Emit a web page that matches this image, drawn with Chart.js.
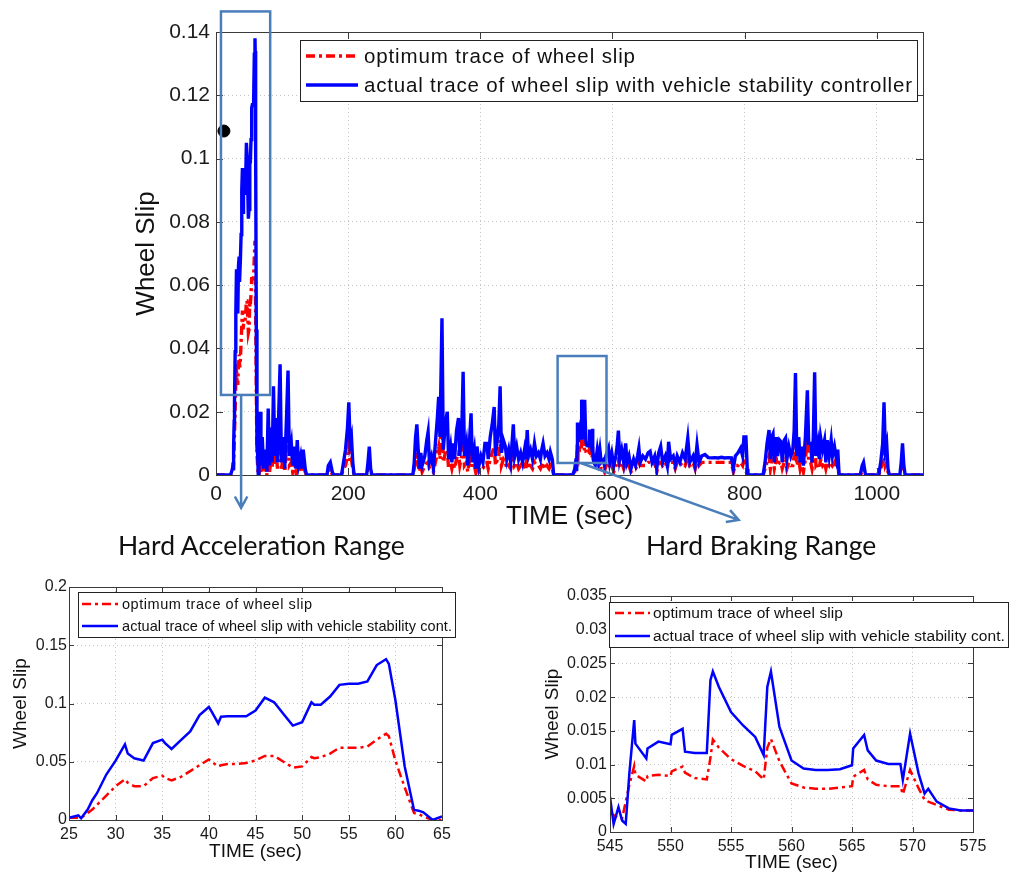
<!DOCTYPE html>
<html>
<head>
<meta charset="utf-8">
<title>Wheel slip</title>
<script src="https://cdn.jsdelivr.net/npm/chart.js@4.4.1/dist/chart.umd.min.js"></script>
<style>
  body { margin: 0; background: #fff; width: 1009px; height: 877px; position: relative; overflow: hidden; }
  .panel { position: absolute; }
  .note { position: absolute; font-family: Lato, "Open Sans", sans-serif; font-size: 26.5px; color: #111; white-space: nowrap; line-height: 30px; }
</style>
</head>
<body>
<div class="panel" style="left:0;top:0;width:1009px;height:575px"><canvas id="mainChart"></canvas></div>
<div class="panel" style="left:0;top:575px;width:470px;height:302px"><canvas id="accelChart"></canvas></div>
<div class="panel" style="left:520px;top:575px;width:489px;height:302px"><canvas id="brakeChart"></canvas></div>
<div class="note" style="left:118px;top:530px">Hard Acceleration Range</div>
<div class="note" style="left:646px;top:530px">Hard Braking Range</div>

<script>
const FONT = '"Liberation Sans", Arial, sans-serif';
const LABEL_OPT = 'optimum trace of wheel slip';
const LABEL_ACT_LONG = 'actual trace of wheel slip with vehicle stability controller';
const LABEL_ACT_SHORT = 'actual trace of wheel slip with vehicle stability cont.';

// --- full drive cycle (outside the two zoomed windows) ---
const mainTime = [
  0, 20, 22,
  66, 67, 68, 70, 72, 75, 77, 79, 81, 84, 85, 87, 89, 91, 93, 95, 97, 99, 102, 104, 107, 109, 111, 114, 116, 119, 121, 123, 125, 128, 130, 132, 135, 137,
  168, 170, 173, 176, 178, 190, 193, 196, 199, 201, 203, 205, 207, 209, 228, 230, 232, 234, 236,
  298, 300, 302, 304, 306, 308, 310, 312, 316, 319, 321, 323, 326, 329, 332, 335, 337, 339, 342, 344,
  347, 350, 352, 355, 357, 359, 361, 364, 367, 369, 372, 374, 376, 379, 381, 384, 386, 388, 391, 393,
  395, 398, 401, 404, 407, 410, 412, 415, 418, 421, 423, 426, 428, 430, 432, 435, 438, 440, 443, 446,
  448, 450, 452, 455, 458, 461, 464, 467, 469, 471, 473, 476, 479, 482, 485, 488, 491, 493, 495, 498,
  501, 504, 506, 509, 511, 540, 543,
  577, 579, 581, 583, 586, 588, 590, 594, 596, 599, 602, 605, 607, 609, 611, 614, 617, 620, 622, 625,
  628, 632, 635, 638, 640, 642, 646, 650, 654, 657, 660, 664, 667, 670, 673, 676, 680, 683, 685, 688,
  692, 695, 698, 702, 706, 710, 714, 717, 722, 725, 728, 731, 735, 740, 745, 750, 755, 760, 765, 770,
  775, 780, 783, 786, 790, 794, 797, 799, 802, 804, 805,
  828, 831, 834, 837, 839, 841, 843, 845, 848, 850, 853, 855, 857, 860, 862, 864, 867, 870, 873, 875,
  877, 879, 882, 884, 886, 889, 892, 895, 897, 900, 902, 904, 906, 908, 911, 913, 915, 918, 921, 923,
  925, 928, 931, 933, 936, 939, 941, 943,
  975, 978, 980, 983, 1003, 1006, 1009, 1011, 1013, 1015, 1017, 1019, 1035, 1037, 1039, 1041, 1043, 1070
];
const mainActual = [
  0, 0, 0,
  0.004, 0.02, 0.003, 0.012, 0.002, 0.008, 0.001, 0.021, 0.003, 0.015, 0.004, 0.028, 0.006, 0.018, 0.004, 0.02, 0.035, 0.004, 0.012, 0.002, 0.02, 0.033, 0.006, 0.01, 0.003, 0.009, 0.002, 0.011, 0.003, 0.006, 0.002, 0.008, 0.002, 0,
  0, 0.003, 0.004, 0.001, 0, 0, 0.004, 0.008, 0.015, 0.023, 0.01, 0.012, 0.004, 0, 0, 0.004, 0.009, 0.002, 0,
  0, 0.004, 0.012, 0.016, 0.008, 0.002, 0.007, 0.003, 0.006, 0.011, 0.0136, 0.004, 0.006, 0.002, 0.01, 0.018, 0.0247, 0.012, 0.0495, 0.008,
  0.016, 0.02, 0.005, 0.009, 0.004, 0.01, 0.005, 0.014, 0.018, 0.006, 0.014, 0.0326, 0.006, 0.01, 0.003, 0.012, 0.0195, 0.004, 0.008, 0.002,
  0.009, 0.003, 0.006, 0.004, 0.01, 0.01, 0.005, 0.012, 0.016, 0.0215, 0.006, 0.012, 0.016, 0.028, 0.007, 0.011, 0.009, 0.005, 0.008, 0.004,
  0.01, 0.016, 0.006, 0.009, 0.005, 0.007, 0.004, 0.008, 0.005, 0.0142, 0.006, 0.008, 0.005, 0.01, 0.006, 0.007, 0.005, 0.008, 0.01, 0.006,
  0.007, 0.005, 0.0073, 0.005, 0, 0, 0.002,
  0.008, 0.005, 0.008, 0.004, 0.0047, 0.003, 0.006, 0.0085, 0.004, 0.007, 0.003, 0.006, 0.009, 0.014, 0.005, 0.008, 0.004, 0.01, 0.004, 0.006,
  0.002, 0.005, 0.003, 0.006, 0.0085, 0.004, 0.006, 0.005, 0.007, 0.0075, 0.004, 0.006, 0.002, 0.007, 0.009, 0.004, 0.006, 0.003, 0.0105, 0.005,
  0.006, 0.003, 0.006, 0.004, 0.007, 0.005, 0.0117, 0.004, 0.006, 0.003, 0.0095, 0.004, 0.006, 0.0065, 0.0055, 0.0054, 0.0055, 0.0054, 0.0056, 0.0054,
  0.0055, 0.0054, 0.002, 0.006, 0.007, 0.0085, 0.006, 0.012, 0.012, 0.002, 0,
  0, 0.004, 0.01, 0.0142, 0.005, 0.012, 0.013, 0.004, 0.012, 0.006, 0.011, 0.0105, 0.004, 0.011, 0.0117, 0.005, 0.009, 0.006, 0.008, 0.014,
  0.0322, 0.006, 0.012, 0.004, 0.009, 0.003, 0.012, 0.0268, 0.01, 0.01, 0.004, 0.012, 0.0325, 0.006, 0.01, 0.005, 0.012, 0.008, 0.011, 0.004,
  0.011, 0.006, 0.011, 0.006, 0.009, 0.005, 0.008, 0,
  0, 0.003, 0.004, 0, 0, 0.004, 0.01, 0.023, 0.008, 0.01, 0.002, 0, 0, 0.004, 0.01, 0.003, 0, 0
];
const mainOptimum = [
  0, 0, 0,
  0.002, 0.008, 0.001, 0.005, 0.001, 0.004, 0, 0.008, 0.001, 0.006, 0.002, 0.012, 0.003, 0.008, 0.002, 0.009, 0.014, 0.002, 0.006, 0.001, 0.009, 0.013, 0.003, 0.004, 0.001, 0.004, 0.001, 0.005, 0.001, 0.003, 0.001, 0.003, 0.001, 0,
  0, 0.001, 0.002, 0, 0, 0, 0.002, 0.003, 0.006, 0.009, 0.004, 0.005, 0.002, 0, 0, 0.002, 0.004, 0.001, 0,
  0, 0.002, 0.005, 0.006, 0.003, 0.001, 0.003, 0.001, 0.003, 0.004, 0.005, 0.002, 0.002, 0.001, 0.004, 0.007, 0.009, 0.005, 0.018, 0.004,
  0.007, 0.008, 0.002, 0.004, 0.002, 0.004, 0.002, 0.005, 0.007, 0.003, 0.006, 0.012, 0.003, 0.004, 0.001, 0.005, 0.008, 0.002, 0.003, 0.001,
  0.004, 0.001, 0.002, 0.002, 0.004, 0.004, 0.002, 0.005, 0.007, 0.009, 0.003, 0.005, 0.006, 0.011, 0.003, 0.005, 0.004, 0.002, 0.003, 0.002,
  0.004, 0.007, 0.003, 0.004, 0.002, 0.003, 0.002, 0.003, 0.002, 0.006, 0.003, 0.003, 0.002, 0.004, 0.003, 0.003, 0.002, 0.003, 0.004, 0.002,
  0.003, 0.002, 0.003, 0.002, 0, 0, 0.001,
  0.005, 0.003, 0.004, 0.002, 0.002, 0.001, 0.003, 0.004, 0.002, 0.003, 0.001, 0.003, 0.004, 0.005, 0.002, 0.004, 0.002, 0.004, 0.002, 0.003,
  0.001, 0.002, 0.002, 0.003, 0.004, 0.003, 0.003, 0.003, 0.004, 0.004, 0.003, 0.004, 0.001, 0.004, 0.004, 0.003, 0.004, 0.002, 0.005, 0.004,
  0.004, 0.002, 0.004, 0.003, 0.004, 0.003, 0.005, 0.003, 0.004, 0.002, 0.005, 0.003, 0.004, 0.004, 0.004, 0.004, 0.004, 0.004, 0.004, 0.004,
  0.004, 0.004, 0.001, 0.003, 0.003, 0.004, 0.003, 0.005, 0.005, 0.001, 0,
  0, 0.002, 0.004, 0.006, 0.002, 0.005, 0.005, 0.002, 0.005, 0.003, 0.004, 0.004, 0.002, 0.004, 0.005, 0.002, 0.004, 0.003, 0.003, 0.006,
  0.012, 0.003, 0.005, 0.002, 0.004, 0.001, 0.005, 0.011, 0.004, 0.004, 0.002, 0.005, 0.012, 0.003, 0.004, 0.002, 0.005, 0.003, 0.004, 0.002,
  0.004, 0.003, 0.004, 0.003, 0.004, 0.002, 0.003, 0,
  0, 0.001, 0.002, 0, 0, 0.002, 0.004, 0.009, 0.003, 0.004, 0.001, 0, 0, 0.002, 0.004, 0.001, 0, 0
];
const markerPoint = [12, 0.1087];

// --- hard acceleration window, 25-65 s ---
const accelTime = [
  25, 26, 26.3, 27, 27.5, 28, 29, 30, 31, 31.3, 32, 33, 34, 35, 35.3, 36, 37, 38, 39, 40,
  40.3, 41, 41.3, 42, 43, 44, 45, 46, 47, 48, 49, 50, 51, 51.3, 52, 53, 54, 55, 56, 57,
  58, 59, 59.3, 60, 61, 62, 62.5, 63, 64, 65
];
const accelActual = [
  0.002, 0.004, 0.0015, 0.009, 0.017, 0.023, 0.039, 0.051, 0.065, 0.057, 0.053, 0.051, 0.066, 0.069, 0.066, 0.061, 0.0686, 0.076, 0.09, 0.097,
  0.093, 0.083, 0.0886, 0.089, 0.089, 0.089, 0.094, 0.105, 0.101, 0.091, 0.081, 0.084, 0.101, 0.099, 0.099, 0.106, 0.116, 0.117, 0.117, 0.119,
  0.133, 0.138, 0.134, 0.103, 0.046, 0.0086, 0.008, 0.0066, 0, 0.003
];
const accelOptimum = [
  0.002, 0.002, 0.002, 0.006, 0.009, 0.013, 0.021, 0.029, 0.035, 0.032, 0.029, 0.029, 0.036, 0.038, 0.036, 0.034, 0.037, 0.042, 0.047, 0.052,
  0.05, 0.046, 0.047, 0.048, 0.048, 0.049, 0.051, 0.055, 0.055, 0.05, 0.045, 0.046, 0.054, 0.053, 0.054, 0.057, 0.062, 0.062, 0.062, 0.063,
  0.069, 0.074, 0.072, 0.051, 0.028, 0.006, 0.005, 0.003, 0, 0
];

// --- hard braking window, 545-575 s ---
const brakeTime = [
  545, 545.3, 545.7, 546, 546.3, 546.6, 547, 547.1, 548, 548.1, 549, 550, 550.1, 551, 551.2, 552,
  553, 553.3, 553.5, 554, 555, 556, 557, 557.7, 558, 558.3, 559, 560, 561, 562, 563, 564,
  565, 565.1, 566, 566.3, 567, 568, 569, 569.2, 569.8, 570.5, 571, 571.3, 572, 573, 574, 575
];
const brakeActual = [
  0.0052, 0.0012, 0.0037, 0.0017, 0.0012, 0.0087, 0.0166, 0.0131, 0.0109, 0.0124, 0.0134, 0.013, 0.0144, 0.0153, 0.0119, 0.0117,
  0.0117, 0.0225, 0.0238, 0.0215, 0.0178, 0.0158, 0.0141, 0.0114, 0.0215, 0.0238, 0.0156, 0.0106, 0.0094, 0.0092, 0.0092, 0.0093,
  0.0099, 0.0124, 0.0144, 0.0121, 0.0106, 0.0101, 0.0101, 0.0077, 0.0146, 0.0087, 0.0057, 0.0064, 0.0045, 0.0035, 0.0032, 0.0032
];
const brakeOptimum = [
  0.003, 0.0025, 0.002, 0.002, 0.0045, 0.007, 0.0098, 0.0085, 0.0075, 0.0083, 0.0085, 0.0083, 0.009, 0.0097, 0.0088, 0.008,
  0.0078, 0.011, 0.0137, 0.0125, 0.0108, 0.0098, 0.009, 0.0078, 0.0125, 0.0138, 0.0105, 0.0072, 0.0066, 0.0064, 0.0064, 0.0066,
  0.0068, 0.0082, 0.0092, 0.0078, 0.007, 0.0068, 0.0068, 0.0056, 0.0092, 0.0065, 0.0048, 0.0045, 0.004, 0.0033, 0.0032, 0.0032
];

// zoom boxes / arrows on the main plot, in data units
const accelBox = { from: 7.5, to: 82, low: 0.0253, high: 0.1465 };
const brakeBox = { from: 517, to: 591, low: 0.0038, high: 0.0376 };
const accelArrow = { x0: 38, y0: 0.0253, x1: 38, y1: -0.0104 };
const brakeArrow = { x0: 552, y0: 0.0038, x1: 791, y1: -0.0142 };

function toPoints(xs, ys) {
  return xs.map((x, i) => ({ x: x, y: ys[i] }));
}

function fmt(v) {
  return String(+v.toFixed(4));
}

// matlab-ish axes box, inward ticks, axis titles and a boxed legend
const matlabFrame = {
  id: 'matlabFrame',
  afterDraw(chart, args, opts) {
    const { ctx, chartArea: a, scales } = chart;
    ctx.save();
    ctx.strokeStyle = '#3a3a3a';
    ctx.lineWidth = 1;
    ctx.strokeRect(Math.round(a.left) + 0.5, Math.round(a.top) + 0.5, Math.round(a.right - a.left), Math.round(a.bottom - a.top));

    const tl = opts.tickLen;
    ctx.beginPath();
    scales.x.ticks.forEach(t => {
      const px = Math.round(scales.x.getPixelForValue(t.value)) + 0.5;
      ctx.moveTo(px, a.bottom); ctx.lineTo(px, a.bottom - tl);
      ctx.moveTo(px, a.top); ctx.lineTo(px, a.top + tl);
    });
    scales.y.ticks.forEach(t => {
      const py = Math.round(scales.y.getPixelForValue(t.value)) + 0.5;
      ctx.moveTo(a.left, py); ctx.lineTo(a.left + tl, py);
      ctx.moveTo(a.right, py); ctx.lineTo(a.right - tl, py);
    });
    ctx.stroke();

    ctx.fillStyle = '#111';
    ctx.font = opts.titleSize + 'px ' + FONT;
    ctx.textAlign = 'center';
    ctx.textBaseline = 'middle';
    ctx.fillText(opts.xTitle, (a.left + a.right) / 2, a.bottom + opts.xTitleGap);
    ctx.save();
    ctx.translate(a.left - opts.yTitleGap, (a.top + a.bottom) / 2);
    ctx.rotate(-Math.PI / 2);
    ctx.fillText(opts.yTitle, 0, 0);
    ctx.restore();

    const lg = opts.legend;
    const bx = a.left + lg.dx, by = a.top + lg.dy;
    ctx.fillStyle = '#fff';
    ctx.fillRect(bx, by, lg.w, lg.h);
    ctx.strokeStyle = '#222';
    ctx.strokeRect(bx + 0.5, by + 0.5, lg.w, lg.h);
    ctx.font = lg.size + 'px ' + FONT;
    ctx.textAlign = 'left';
    lg.labels.forEach((label, i) => {
      const ds = chart.data.datasets[i];
      const y = by + lg.rows[i];
      ctx.beginPath();
      ctx.strokeStyle = ds.borderColor;
      ctx.lineWidth = ds.borderWidth;
      ctx.setLineDash(ds.borderDash || []);
      ctx.moveTo(bx + lg.sample[0], y);
      ctx.lineTo(bx + lg.sample[1], y);
      ctx.stroke();
      ctx.setLineDash([]);
      // matlab spreads the legend text a little wider than canvas does
      ctx.letterSpacing = '0px';
      const w = ctx.measureText(label).width;
      const spread = lg.fit ? Math.max(0, (lg.fit[i] - w) / (label.length - 1)) : 0;
      ctx.letterSpacing = spread.toFixed(2) + 'px';
      ctx.fillStyle = '#111';
      ctx.fillText(label, bx + lg.textX, y + 1);
      ctx.letterSpacing = '0px';
    });
    ctx.restore();
  }
};

// blue rectangles + arrows pointing at the zoomed panels
const zoomMarks = {
  id: 'zoomMarks',
  afterDraw(chart) {
    const { ctx, scales: { x, y } } = chart;
    ctx.save();
    ctx.strokeStyle = '#4a7ebb';
    ctx.lineWidth = 2.5;
    [accelBox, brakeBox].forEach(b => {
      const l = x.getPixelForValue(b.from), r = x.getPixelForValue(b.to);
      const t = y.getPixelForValue(b.high), btm = y.getPixelForValue(b.low);
      ctx.strokeRect(l, t, r - l, btm - t);
    });
    [accelArrow, brakeArrow].forEach(ar => {
      const x0 = x.getPixelForValue(ar.x0), y0 = y.getPixelForValue(ar.y0);
      const x1 = x.getPixelForValue(ar.x1), y1 = y.getPixelForValue(ar.y1);
      const ang = Math.atan2(y1 - y0, x1 - x0);
      ctx.beginPath();
      ctx.moveTo(x0, y0);
      ctx.lineTo(x1, y1);
      ctx.moveTo(x1 - 13 * Math.cos(ang - 0.5), y1 - 13 * Math.sin(ang - 0.5));
      ctx.lineTo(x1, y1);
      ctx.lineTo(x1 - 13 * Math.cos(ang + 0.5), y1 - 13 * Math.sin(ang + 0.5));
      ctx.stroke();
    });
    ctx.restore();
  }
};

function slipChart(id, datasets, c) {
  const tickFont = { family: FONT, size: c.tickSize };
  return new Chart(document.getElementById(id), {
    type: 'line',
    data: { datasets: datasets },
    options: {
      responsive: true,
      maintainAspectRatio: false,
      animation: false,
      layout: { padding: { top: c.padTop, right: c.padRight, left: 0, bottom: 0 } },
      elements: { point: { radius: 0 }, line: { tension: 0 } },
      plugins: {
        legend: { display: false },
        tooltip: { enabled: false },
        matlabFrame: c.frame
      },
      scales: {
        x: {
          type: 'linear',
          min: c.xMin, max: c.xMax,
          // fixed tick positions, the axis end (e.g. 1070) gets no label
          afterBuildTicks: s => {
            const ticks = [];
            for (let v = c.xMin; v <= c.xMax + 1e-9; v += c.xStep) ticks.push({ value: v });
            s.ticks = ticks;
          },
          afterFit: s => { s.height = c.xHeight; },
          ticks: { font: tickFont, color: '#1a1a1a', padding: c.xPad, maxRotation: 0, autoSkip: false, callback: v => fmt(v) },
          grid: { color: '#c4c4c4', drawTicks: false },
          border: { display: false, dash: [1, 3] }
        },
        y: {
          min: 0, max: c.yMax,
          afterFit: s => { s.width = c.yWidth; },
          ticks: { stepSize: c.yStep, font: tickFont, color: '#1a1a1a', padding: c.yPad, autoSkip: false, callback: v => fmt(v) },
          grid: { color: '#c4c4c4', drawTicks: false },
          border: { display: false, dash: [1, 3] }
        }
      }
    },
    plugins: c.extra ? [matlabFrame, c.extra] : [matlabFrame]
  });
}

function traceSets(optPts, actPts, w) {
  return [
    { data: optPts, borderColor: '#ff0000', borderWidth: w, borderDash: [9, 4, 3, 4], order: 2 },
    { data: actPts, borderColor: '#0000ff', borderWidth: w, order: 1 }
  ];
}

// main panel: whole cycle = outer samples + both zoom windows
const byTime = (p, q) => p.x - q.x;
const fullOptimum = toPoints(mainTime, mainOptimum).concat(toPoints(accelTime, accelOptimum), toPoints(brakeTime, brakeOptimum)).sort(byTime);
const fullActual = toPoints(mainTime, mainActual).concat(toPoints(accelTime, accelActual), toPoints(brakeTime, brakeActual)).sort(byTime);

const mainSets = traceSets(fullOptimum, fullActual, 3.4);
mainSets.push({ data: [{ x: markerPoint[0], y: markerPoint[1] }], showLine: false, pointRadius: 6, pointBackgroundColor: '#000', pointBorderColor: '#000', order: 0 });

slipChart('mainChart', mainSets, {
  padTop: 32, padRight: 86, yWidth: 216, xHeight: 100,
  xMin: 0, xMax: 1070, xStep: 200, yMax: 0.14, yStep: 0.02,
  tickSize: 21, xPad: 7, yPad: 6,
  frame: {
    tickLen: 7, titleSize: 26, xTitle: 'TIME (sec)', xTitleGap: 42, yTitle: 'Wheel Slip', yTitleGap: 69,
    legend: { dx: 84, dy: 8, w: 617, h: 61, rows: [16, 45], sample: [6, 58], textX: 64, size: 20.5, fit: [271, 548], labels: [LABEL_OPT, LABEL_ACT_LONG] }
  },
  extra: zoomMarks
});

slipChart('accelChart', traceSets(toPoints(accelTime, accelOptimum), toPoints(accelTime, accelActual), 2.5), {
  padTop: 12, padRight: 28, yWidth: 69, xHeight: 57,
  xMin: 25, xMax: 65, xStep: 5, yMax: 0.2, yStep: 0.05,
  tickSize: 16, xPad: 5, yPad: 2,
  frame: {
    tickLen: 5, titleSize: 19, xTitle: 'TIME (sec)', xTitleGap: 32, yTitle: 'Wheel Slip', yTitleGap: 48,
    legend: { dx: 9, dy: 5, w: 377, h: 45, rows: [12, 34], sample: [4, 40], textX: 44, size: 14.5, fit: [190, 330], labels: [LABEL_OPT, LABEL_ACT_SHORT] }
  }
});

slipChart('brakeChart', traceSets(toPoints(brakeTime, brakeOptimum), toPoints(brakeTime, brakeActual), 2.5), {
  padTop: 21, padRight: 36, yWidth: 90, xHeight: 45,
  xMin: 545, xMax: 575, xStep: 5, yMax: 0.035, yStep: 0.005,
  tickSize: 16, xPad: 5, yPad: 3,
  frame: {
    tickLen: 5, titleSize: 19, xTitle: 'TIME (sec)', xTitleGap: 31, yTitle: 'Wheel Slip', yTitleGap: 57,
    legend: { dx: -1, dy: 6, w: 399, h: 45, rows: [11, 34], sample: [6, 41], textX: 44, size: 15.5, fit: [190, 352], labels: [LABEL_OPT, LABEL_ACT_SHORT] }
  }
});
</script>
</body>
</html>
